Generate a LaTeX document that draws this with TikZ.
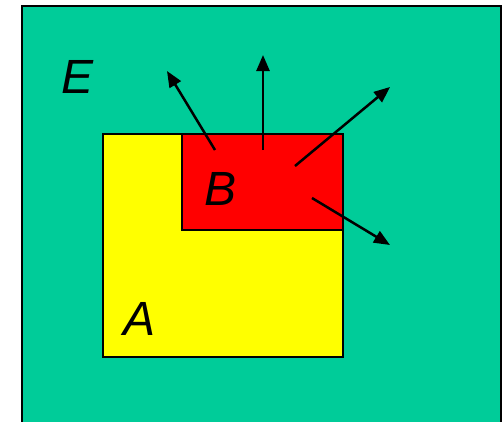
\documentclass[tikz,border=0pt]{standalone}
\usepackage{fontspec}
\setmainfont{Liberation Sans}
\usetikzlibrary{arrows.meta}
\definecolor{envgreen}{RGB}{0, 204, 153}
\definecolor{regyellow}{RGB}{255, 255, 0}

\begin{document}
\begin{tikzpicture}[x=1pt, y=-1pt, line width=2pt,
    every node/.style={font=\fontsize{48}{48}\selectfont\itshape},
    flux/.style={line width=2.5pt, -{Triangle[length=16pt, width=13pt]}}]
  \path[use as bounding box, clip] (0,0) rectangle (504,421);
  % environment E
  \fill[envgreen] (22,6) rectangle (501,440);
  \draw (22,440) -- (22,6) -- (501,6) -- (501,440);
  \node (labelE) at (78,77) {E};
  % region A with subregion B
  \fill[regyellow] (103,134) rectangle (343,357);
  \draw (103,134) rectangle (343,357);
  \fill[red] (182,134) rectangle (343,230);
  \draw (182,134) rectangle (343,230);
  \node (labelA) at (140,319) {A};
  \node (labelB) at (221,189) {B};
  % outgoing arrows
  \draw[flux] (215,150) -- (167,71);
  \draw[flux] (263,150) -- (263,55);
  \draw[flux] (295,166) -- (390,87);
  \draw[flux] (312,198) -- (390,245);
\end{tikzpicture}
\end{document}
